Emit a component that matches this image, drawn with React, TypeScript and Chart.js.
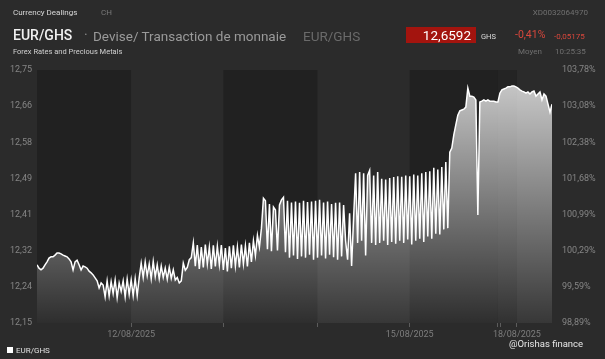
import React, { useEffect, useRef } from 'react';
import { Chart, registerables } from 'chart.js';
Chart.register(...registerables);

// EUR/GHS rate samples, evenly spaced in time from 11/08 to 19/08/2025 (weekend compressed)
const eurGhs = [
  12.288, 12.280, 12.276, 12.280, 12.288, 12.295, 12.304, 12.307, 12.307, 12.311,
  12.316, 12.316, 12.314, 12.311, 12.309, 12.307, 12.302, 12.295, 12.276, 12.295,
  12.299, 12.288, 12.276, 12.285, 12.283, 12.280, 12.273, 12.269, 12.264, 12.257,
  12.250, 12.233, 12.245,
  12.240, 12.212, 12.250, 12.214, 12.248, 12.220, 12.252, 12.210, 12.245, 12.225,
  12.250, 12.212, 12.254, 12.218, 12.252, 12.215, 12.255, 12.215,
  12.257, 12.292, 12.258, 12.295, 12.262, 12.290, 12.255, 12.296, 12.260, 12.288,
  12.255, 12.285, 12.258, 12.280, 12.254, 12.282, 12.256, 12.276, 12.252, 12.258,
  12.245,
  12.250, 12.292, 12.275, 12.282, 12.300, 12.305,
  12.340, 12.285, 12.335, 12.278, 12.330, 12.282, 12.336, 12.290, 12.330, 12.278,
  12.334, 12.284, 12.332, 12.288, 12.335, 12.276, 12.328, 12.272, 12.332, 12.280,
  12.334, 12.285, 12.330, 12.282, 12.336, 12.290, 12.333, 12.284, 12.340, 12.295,
  12.345, 12.310, 12.358, 12.330, 12.375, 12.446,
  12.440, 12.325, 12.432, 12.320, 12.425, 12.418, 12.322, 12.430, 12.442, 12.448,
  12.318, 12.440, 12.305, 12.436, 12.310, 12.438, 12.302, 12.435, 12.308, 12.440,
  12.305, 12.437, 12.312, 12.438, 12.300, 12.440, 12.305, 12.442, 12.310, 12.436,
  12.303, 12.438, 12.312, 12.432, 12.306, 12.435, 12.300, 12.436, 12.308, 12.430,
  12.345, 12.300, 12.410, 12.285, 12.400,
  12.505, 12.340, 12.508, 12.345, 12.505, 12.310, 12.500, 12.512, 12.340, 12.500,
  12.335, 12.508,
  12.340, 12.492, 12.345, 12.490, 12.335, 12.494, 12.342, 12.496, 12.338, 12.498,
  12.345, 12.497, 12.340, 12.500, 12.348, 12.498, 12.336, 12.502, 12.345, 12.500,
  12.350, 12.505, 12.342, 12.508, 12.355, 12.510, 12.350, 12.518, 12.362, 12.514,
  12.360,
  12.520, 12.372, 12.532, 12.375, 12.555, 12.565,
  12.596, 12.620, 12.643, 12.653, 12.655, 12.657, 12.662, 12.707, 12.688, 12.688,
  12.686, 12.679, 12.406, 12.674, 12.676, 12.679, 12.676, 12.679, 12.676, 12.676,
  12.676, 12.674, 12.674, 12.695, 12.703, 12.705, 12.707, 12.710, 12.710, 12.712,
  12.712, 12.710, 12.707, 12.703, 12.700, 12.698, 12.695, 12.698, 12.693, 12.698,
  12.700, 12.688, 12.693, 12.698, 12.679, 12.693, 12.688, 12.669, 12.650, 12.669,
];

const yTicksLeft = [12.15, 12.2357, 12.3214, 12.4071, 12.4929, 12.5786, 12.6643, 12.75];
const yTicksRight = [98.89, 99.5886, 100.2871, 100.9857, 101.6843, 102.3829, 103.0814, 103.78];
const xTickPos = [47, 93, 140, 186, 230, 231.5, 239.5];
const xTickLabels = ['12/08/2025', '', '', '15/08/2025', '', '', '18/08/2025'];
const dayBounds = [0, 47, 93, 140, 186, 230, 239.5, 257];
const dayShade = ['#212121', '#2b2b2b', '#212121', '#2b2b2b', '#212121', '#242424', '#2b2b2b'];

const fmt = (v: number) => Number(v).toFixed(2).replace('.', ',');

const bandsPlugin = {
  id: 'dayBands',
  beforeDatasetsDraw(chart: any) {
    const { ctx, chartArea, scales } = chart;
    const x = scales.x;
    ctx.save();
    for (let i = 0; i < dayShade.length; i++) {
      const a = x.getPixelForValue(dayBounds[i]);
      const b = x.getPixelForValue(dayBounds[i + 1]);
      ctx.fillStyle = dayShade[i];
      ctx.fillRect(a, chartArea.top, b - a, chartArea.bottom - chartArea.top);
    }
    ctx.restore();
  },
};

const T = ({ x, y, size, color, children, weight = 400, right = false }: any) => (
  <span
    style={{
      position: 'absolute',
      left: right ? undefined : x,
      right: right ? 605 - x : undefined,
      top: y - size * 0.62,
      fontSize: size,
      lineHeight: `${size * 1.2}px`,
      color,
      fontWeight: weight,
      whiteSpace: 'nowrap',
    }}
  >
    {children}
  </span>
);

export default function App() {
  const ref = useRef<HTMLCanvasElement>(null);
  useEffect(() => {
    if (!ref.current) return;
    const chart = new Chart(ref.current, {
      type: 'line',
      data: {
        labels: eurGhs.map((_, i) => i),
        datasets: [
          {
            label: 'EUR/GHS',
            data: eurGhs,
            borderColor: '#ffffff',
            borderWidth: 1.5,
            pointRadius: 0,
            tension: 0,
            fill: 'start',
            yAxisID: 'y',
            backgroundColor: (c: any) => {
              const { ctx, chartArea } = c.chart;
              if (!chartArea) return 'rgba(255,255,255,0.3)';
              const g = ctx.createLinearGradient(0, chartArea.top, 0, chartArea.bottom);
              g.addColorStop(0, 'rgba(255,255,255,0.78)');
              g.addColorStop(1, 'rgba(255,255,255,0.06)');
              return g;
            },
          },
        ],
      },
      options: {
        animation: false,
        responsive: false,
        devicePixelRatio: 1,
        layout: { padding: { top: 70, left: 0, right: 0, bottom: 0 } },
        plugins: { legend: { display: false }, tooltip: { enabled: false } },
        scales: {
          x: {
            type: 'linear',
            min: 0,
            max: 257,
            afterBuildTicks: (s: any) => {
              s.ticks = xTickPos.map((v) => ({ value: v }));
            },
            afterFit: (s: any) => {
              s.height = 36;
            },
            grid: { display: true, drawOnChartArea: false, drawTicks: true, tickLength: 4, color: '#5c5c5c' },
            border: { display: false },
            ticks: {
              autoSkip: false,
              maxRotation: 0,
              minRotation: 0,
              padding: 2,
              color: '#7d7d7d',
              font: { family: 'Roboto', size: 9 },
              callback: (_v: any, i: number) => xTickLabels[i],
            },
          },
          y: {
            position: 'left',
            min: 12.15,
            max: 12.75,
            afterBuildTicks: (s: any) => {
              s.ticks = yTicksLeft.map((v) => ({ value: v }));
            },
            afterFit: (s: any) => {
              s.width = 37;
            },
            grid: { display: false, drawTicks: false },
            border: { display: false },
            ticks: {
              padding: 5,
              color: '#868686',
              font: { family: 'Roboto', size: 9 },
              callback: (v: any) => fmt(v),
            },
          },
          y2: {
            position: 'right',
            min: 98.89,
            max: 103.78,
            afterBuildTicks: (s: any) => {
              s.ticks = yTicksRight.map((v) => ({ value: v }));
            },
            afterFit: (s: any) => {
              s.width = 53;
            },
            grid: { display: false, drawTicks: false },
            border: { display: false },
            ticks: {
              padding: 10,
              color: '#868686',
              font: { family: 'Roboto', size: 9 },
              callback: (v: any) => fmt(v) + '%',
            },
          },
        },
      } as any,
      plugins: [bandsPlugin],
    });
    return () => chart.destroy();
  }, []);

  return (
    <div
      style={{
        position: 'fixed',
        left: 0,
        top: 0,
        width: 605,
        height: 359,
        background: '#2b2b2b',
        fontFamily: 'Roboto, sans-serif',
        overflow: 'hidden',
      }}
    >
      <canvas ref={ref} width={605} height={359} style={{ position: 'absolute', left: 0, top: 0 }} />
      <T x={13} y={13} size={8} color="#d8d8d8">Currency Dealings</T>
      <T x={101} y={13} size={8} color="#7a7a7a">CH</T>
      <T x={588} y={13} size={8} color="#707070" right>XD0032064970</T>
      <T x={13} y={36} size={14} color="#f0f0f0" weight={500}>EUR/GHS</T>
      <T x={84} y={36} size={14} color="#888888">·</T>
      <T x={93} y={36} size={13.5} color="#9a9a9a">Devise/ Transaction de monnaie</T>
      <T x={303} y={36} size={13.5} color="#6a6a6a">EUR/GHS</T>
      <div style={{ position: 'absolute', left: 406, top: 27, width: 70, height: 16, background: '#a3140e' }} />
      <T x={471} y={35.5} size={13.5} color="#ffffff" right>12,6592</T>
      <T x={481} y={37} size={7.5} color="#dddddd">GHS</T>
      <T x={515} y={35.5} size={10.5} color="#d9473c">-0,41%</T>
      <T x={554} y={37} size={8} color="#d9473c">-0,05175</T>
      <T x={13} y={51.5} size={7.5} color="#d0d0d0">Forex Rates and Precious Metals</T>
      <T x={518} y={51.5} size={8} color="#707070">Moyen</T>
      <T x={555} y={51.5} size={8} color="#707070">10:25:35</T>
      <div style={{ position: 'absolute', left: 7, top: 347, width: 6, height: 6, background: '#ffffff' }} />
      <T x={16} y={351} size={8} color="#e0e0e0">EUR/GHS</T>
      <T x={509} y={344} size={9.5} color="#e8e8e8">@Orishas finance</T>
    </div>
  );
}
